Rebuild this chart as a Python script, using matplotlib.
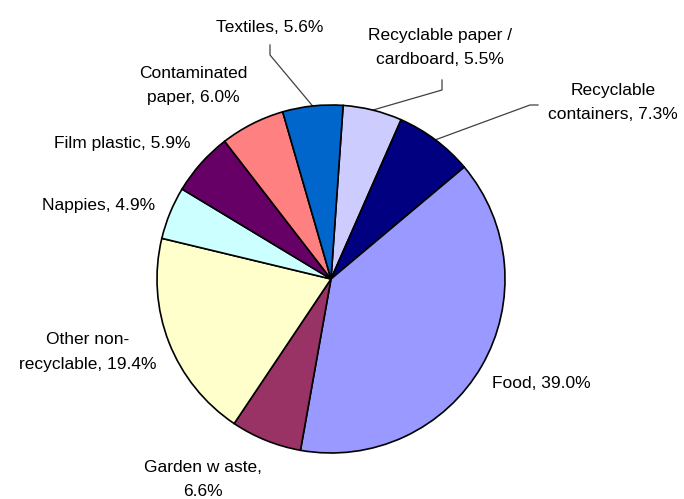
import matplotlib
matplotlib.use("Agg")
import matplotlib.pyplot as plt
import math

# ---- data (clockwise from top) ----
categories = ["Recyclable paper /\ncardboard", "Recyclable\ncontainers", "Food",
              "Garden w aste,\n", "Other non-\nrecyclable", "Nappies", "Film plastic",
              "Contaminated\npaper", "Textiles"]
values = [5.5, 7.3, 39.0, 6.6, 19.4, 4.9, 5.9, 6.0, 5.6]
colors = ["#CCCCFF", "#000080", "#9999FF", "#993366", "#FFFFCC", "#CCFFFF",
          "#660066", "#FF8080", "#0066CC"]

# ---- layout (pixel coordinates, y measured from top) ----
W, H = 684, 499
center_px = (331, 279)
radius_px = 174
label_pos = [(440, 47), (613, 102), (541, 383), (203, 479), (88, 352),
             (99, 205), (122, 143), (193, 85), (270, 27)]
# leader lines: elbow points (pixel) before reaching the wedge edge
leaders = {8: [(270, 45), (270, 55)],
           0: [(442, 80), (442, 90)],
           1: [(538, 105), (530, 105)]}

plt.rcParams['font.family'] = ['Liberation Sans', 'DejaVu Sans']

fig = plt.figure(figsize=(W / 100, H / 100), dpi=100)
ax = fig.add_axes([0, 0, 1, 1])
ax.axis("off")

def fy(py):
    return H - py

wedges, _ = ax.pie(values, colors=colors, startangle=86, counterclock=False,
                   center=(center_px[0], fy(center_px[1])), radius=radius_px,
                   wedgeprops=dict(edgecolor="black", linewidth=1.2))
ax.set_xlim(0, W)
ax.set_ylim(0, H)
ax.set_aspect("equal")

for i, (cat, v) in enumerate(zip(categories, values)):
    if cat.endswith("\n"):
        txt = cat + f"{v:.1f}%"
    else:
        txt = f"{cat}, {v:.1f}%"
    px, py = label_pos[i]
    ax.text(px, fy(py), txt, ha="center", va="center", fontsize=12.5,
            color="black", linespacing=1.75)
    if i in leaders:
        w = wedges[i]
        mid = math.radians((w.theta1 + w.theta2) / 2)
        ex = w.center[0] + w.r * math.cos(mid)
        ey = w.center[1] + w.r * math.sin(mid)
        pts = leaders[i]
        xs = [p[0] for p in pts] + [ex]
        ys = [fy(p[1]) for p in pts] + [ey]
        ax.plot(xs, ys, color="#404040", linewidth=0.9, zorder=0)

fig.savefig("out.png", dpi=100)
